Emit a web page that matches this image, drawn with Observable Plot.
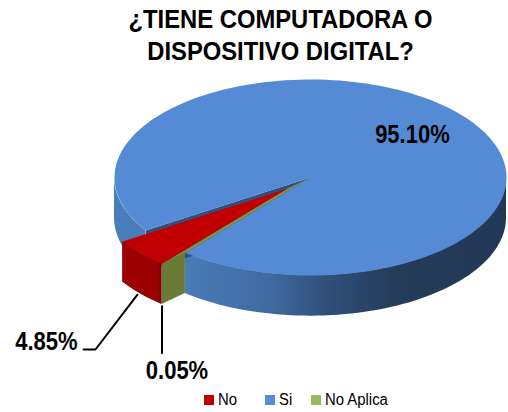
<!DOCTYPE html>
<html lang="es">
<head>
<meta charset="utf-8">
<script src="https://cdn.jsdelivr.net/npm/d3@7"></script>
<script src="https://cdn.jsdelivr.net/npm/@observablehq/plot@0.6"></script>
<style>
  html, body { margin: 0; padding: 0; background: #fff; }
  body { width: 508px; height: 412px; overflow: hidden; position: relative; font-family: "Liberation Sans", Arial, sans-serif; }
  #title { position: absolute; left: 0; top: 3px; width: 561px; margin: 0; text-align: center; font-size: 26px; line-height: 32px; font-weight: 700; color: #000; transform-origin: 280.5px 0; transform: scaleX(0.915); white-space: nowrap; }
  #chart { position: absolute; left: 0; top: 72px; }
  #chart svg { display: block; }
  #legend { position: absolute; left: 0; top: 384px; width: 508px; height: 28px; font-size: 16px; color: #000; }
  #legend i { position: absolute; top: 11px; width: 10px; height: 10px; }
  #legend span { position: absolute; top: 7px; line-height: 18px; white-space: nowrap; transform-origin: 0 0; transform: scaleX(0.93); }
</style>
</head>
<body>
<h1 id="title"></h1>
<div id="chart"></div>
<div id="legend"></div>
<script>
// Data
const titleLines = ["¿TIENE COMPUTADORA O", "DISPOSITIVO DIGITAL?"];
const categories = ["No", "Si", "No Aplica"];
const values = [4.85, 95.10, 0.05];
const labels = ["4.85%", "95.10%", "0.05%"];
const legendColors = ["#c00000", "#558ed5", "#9bbb59"];

// Pie geometry (in the unit space of the x and y scales)
const firstSliceAngle = 129.84;           // degrees, clockwise from 3 o'clock
const depth = 0.415;                      // height of the pie wall
const explode = [-0.117, 0.112];          // displacement of the pulled-out slice
const rad = Math.PI / 180;

let cum = firstSliceAngle;
const slices = values.map((v) => { const a0 = cum; cum += v * 3.6; return [a0, cum]; });
const [noArc, siArc, naArc] = slices;

function arc(a0, a1, dx = 0, dy = 0) {
  const n = Math.max(2, Math.ceil(Math.abs(a1 - a0) / 2) + 1);
  return d3.range(n).map((i) => {
    const a = (a0 + (a1 - a0) * i / (n - 1)) * rad;
    return { x: Math.cos(a) + dx, y: Math.sin(a) + dy };
  });
}
const wall = (pts) => pts.map((p) => ({ x: p.x, y1: p.y, y2: p.y + depth }));
const poly = (pts, fill) => Plot.line(pts, { x: "x", y: "y", fill, stroke: "none", curve: "linear" });
const wallMark = (pts, fill) => Plot.areaY(wall(pts), { x: "x", y1: "y1", y2: "y2", fill });

const centre = { x: 0, y: 0 };
const centreOut = { x: explode[0], y: explode[1] };

const siTop = [centre, ...arc(siArc[0], siArc[1])];
const noOuter = arc(noArc[0], noArc[1], ...explode);
const noTop = [centreOut, ...noOuter];
const siNear = arc(siArc[1], siArc[1]);
const naGap = [centreOut, noOuter[0], siNear[0], centre];

// walls
const frontWall = arc(0, siArc[1] - 360);
const leftWall = arc(siArc[0], 180);
const farEdge = arc(siArc[0], siArc[0])[0];
const farCutPoly = [centre, farEdge, { x: farEdge.x, y: farEdge.y + depth }, { x: centre.x, y: centre.y + depth }];
const naFace = [noOuter[0], siNear[0]];

// Leader lines start from the slice bottoms
const noMid = noOuter[Math.floor(noOuter.length / 2)];
const noLeader = [
  { x: noMid.x - 0.005, y: noMid.y + depth + 0.02 },
  { x: -1.097, y: 1.755 },
  { x: -1.158, y: 1.755 }
];
const naLeader = [
  { x: noOuter[0].x, y: noOuter[0].y + depth + 0.02 },
  { x: noOuter[0].x, y: 1.79 }
];

const defs = (i, s) => {
  const d = d3.create("svg:defs");
  const grad = (id, x1, x2, stops) => {
    const g = d.append("linearGradient").attr("id", id).attr("gradientUnits", "userSpaceOnUse")
      .attr("x1", s.x(x1)).attr("x2", s.x(x2)).attr("y1", 0).attr("y2", 0);
    stops.forEach(([o, c]) => g.append("stop").attr("offset", o).attr("stop-color", c));
  };
  grad("blueWall", -1, 1, [[0, "#4a7ebb"], [0.18, "#4a7cb8"], [0.4, "#3f6aa0"], [0.55, "#2f4e78"], [0.72, "#243b5a"], [1, "#233856"]]);
  grad("redWall", noOuter[noOuter.length - 1].x, noOuter[0].x, [[0, "#9c0000"], [0.88, "#9a0000"], [1, "#7a0000"]]);
  return d.node();
};

const labelStyle = { text: (d) => d, fontSize: 25, fontWeight: 700, fill: "#000" };

const plot = Plot.plot({
  width: 508,
  height: 312,
  margin: 0,
  x: { domain: [-1, 1], range: [114, 506], axis: null },
  y: { domain: [-1, 1], range: [7, 203], axis: null },
  style: { background: "transparent", fontFamily: "'Liberation Sans', Arial, sans-serif" },
  marks: [
    defs,
    wallMark(frontWall, "url(#blueWall)"),
    wallMark(leftWall, "url(#blueWall)"),
    poly(farCutPoly, "#2f5080"),
    poly(naGap, "#7f933d"),
    poly(siTop, "#558bd5"),
    wallMark(naFace, "#6a7b38"),
    wallMark(noOuter, "url(#redWall)"),
    poly(noTop, "#c00000"),
    Plot.line(noLeader, { x: "x", y: "y", stroke: "#000", strokeWidth: 2, curve: "linear" }),
    Plot.line(naLeader, { x: "x", y: "y", stroke: "#000", strokeWidth: 2, curve: "linear" }),
    Plot.text([labels[1]], { x: [0.52], y: [-0.43], ...labelStyle }),
    Plot.text([labels[0]], { x: [-1.23], y: [1.68], dx: -23, ...labelStyle }),
    Plot.text([labels[2]], { x: [noOuter[0].x], y: [1.97], dx: 15, ...labelStyle })
  ]
});
// The reference type is condensed: narrow each label around its anchor
d3.select(plot).selectAll("text").attr("transform", function () {
  return (this.getAttribute("transform") || "") + " scale(0.88,1)";
});
document.getElementById("chart").append(plot);

// Title and legend around the SVG
const title = document.getElementById("title");
titleLines.forEach((line, i) => { if (i) title.append(document.createElement("br")); title.append(line); });

const legend = document.getElementById("legend");
const legendX = [204, 265, 311];
categories.forEach((c, i) => {
  const sw = document.createElement("i");
  sw.style.left = legendX[i] + "px";
  sw.style.background = legendColors[i];
  const tx = document.createElement("span");
  tx.style.left = (legendX[i] + 14) + "px";
  tx.textContent = c;
  legend.append(sw, tx);
});
</script>
</body>
</html>
